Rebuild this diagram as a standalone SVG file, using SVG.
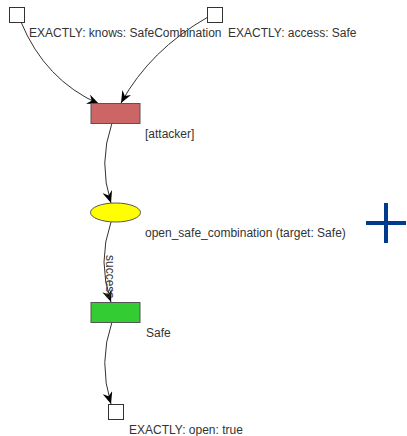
<svg xmlns="http://www.w3.org/2000/svg" width="407" height="436" viewBox="0 0 407 436">
<style>
text{font-family:"Liberation Sans",Arial,sans-serif;font-size:12px;fill:#333}
.sq{fill:#fff;stroke:#333;stroke-width:1}
.edge{fill:none;stroke:#333;stroke-width:1;marker-end:url(#arr)}
</style>
<defs>
<marker id="arr" viewBox="0 0 12 10" refX="12" refY="5" markerWidth="12" markerHeight="10" markerUnits="userSpaceOnUse" orient="auto">
<path d="M0,0 L12,5 L0,10 L4,5 z" fill="#000"/>
</marker>
</defs>
<rect width="407" height="436" fill="#fff"/>
<g id="connectors">
<path class="edge" d="M21,22 Q45,80 99,104"/>
<path class="edge" d="M208,17 Q150,50 121,103"/>
<path class="edge" d="M112,123 Q98,163 111,203"/>
<path class="edge" d="M111,222 Q97,262 111,302"/>
<path class="edge" d="M112,322 Q98,362 111,404"/>
<text x="0" y="0" transform="translate(106,255) rotate(90)">success</text>
</g>
<g id="pre-knows">
<rect class="sq" x="9.5" y="7.5" width="15" height="15"/>
<text x="29" y="37">EXACTLY: knows: SafeCombination</text>
</g>
<g id="pre-access">
<rect class="sq" x="207.5" y="7.5" width="15" height="15"/>
<text x="228" y="37">EXACTLY: access: Safe</text>
</g>
<g id="attacker">
<rect x="91" y="103.5" width="49" height="20" fill="#cc6666" stroke="#555"/>
<text x="145" y="138">[attacker]</text>
</g>
<g id="action">
<ellipse cx="115.5" cy="212.5" rx="25" ry="9.5" fill="#ffff00" stroke="#555"/>
<text x="145" y="237">open_safe_combination (target: Safe)</text>
</g>
<g id="safe">
<rect x="91" y="302.5" width="49" height="20" fill="#33cc33" stroke="#555"/>
<text x="146" y="337">Safe</text>
</g>
<g id="post-open">
<rect class="sq" x="108.5" y="404.5" width="15" height="15"/>
<text x="129" y="434">EXACTLY: open: true</text>
</g>
<g id="plus">
<path d="M366,223 H406 M386,203 V243" stroke="#003a8c" stroke-width="4" fill="none"/>
</g>
</svg>
